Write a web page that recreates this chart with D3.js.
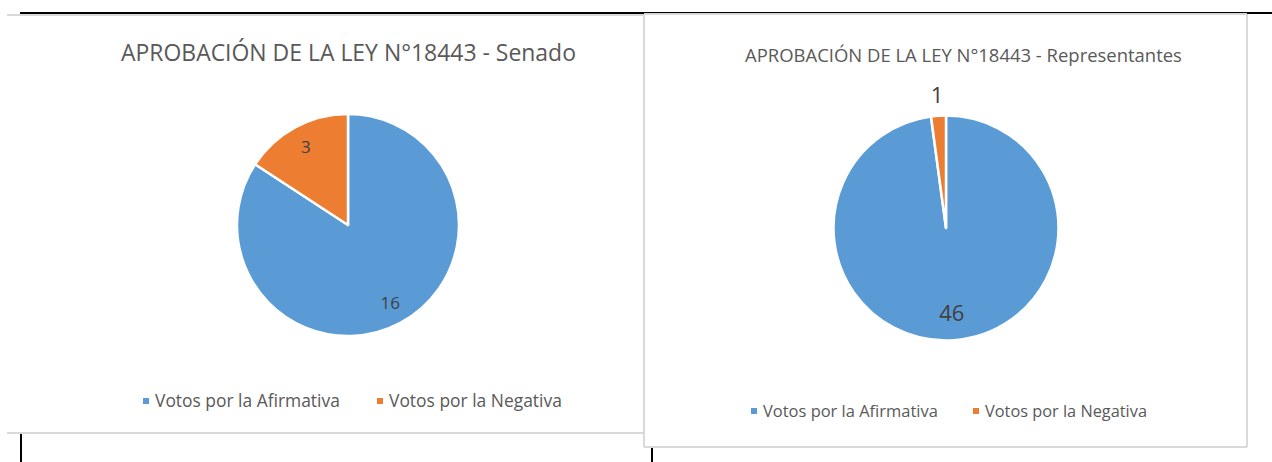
<!DOCTYPE html>
<html>
<head>
<meta charset="utf-8">
<title>Aprobación de la Ley N°18443</title>
<script src="https://d3js.org/d3.v7.min.js"></script>
<style>
  body { margin: 0; background: #fff; }
  svg { display: block; }
  text { font-family: "Open Sans", "Noto Sans", sans-serif; }
</style>
</head>
<body>
<div id="chart"></div>
<script>
// data
const categories = ["Votos por la Afirmativa", "Votos por la Negativa"];
const senadoVotes = [16, 3];
const representantesVotes = [46, 1];
const titles = ["APROBACIÓN DE LA LEY N°18443 - Senado", "APROBACIÓN DE LA LEY N°18443 - Representantes"];

const width = 1272, height = 462;
const color = d3.scaleOrdinal().domain(categories).range(["#5b9bd5", "#ed7d31"]);

const svg = d3.select("#chart").append("svg")
    .attr("width", width)
    .attr("height", height);

// fit a text element to a given pixel width by changing its font size
function fitWidth(sel, target) {
    const node = sel.node();
    const fs = parseFloat(sel.attr("font-size"));
    const w = node.getComputedTextLength();
    sel.attr("font-size", fs * target / w);
}

//  page lines around the two charts (document frame)
svg.append("line").attr("x1", 20).attr("x2", width).attr("y1", 13).attr("y2", 13)
    .attr("stroke", "#000").attr("stroke-width", 2);
svg.append("line").attr("x1", 21).attr("x2", 21).attr("y1", 433).attr("y2", height)
    .attr("stroke", "#000").attr("stroke-width", 2);
svg.append("line").attr("x1", 652).attr("x2", 652).attr("y1", 447).attr("y2", height)
    .attr("stroke", "#000").attr("stroke-width", 2);

// panel settings: box, pie, title and legend placement
const panels = [
    {
        values: senadoVotes, title: titles[0],
        box: [7, 15, 637, 418], leftEdge: false,
        cx: 348, cy: 225, r: 111,
        titleX: 348.5, titleY: 61, titleW: 455, titleSize: 22,
        labelSize: 17, labelR: 0.8,
        legendY: 401, legendX: [143, 377], legendW: [185, 173], legendSize: 15
    },
    {
        values: representantesVotes, title: titles[1],
        box: [644, 14, 603, 433], leftEdge: true,
        cx: 946, cy: 228, r: 112.5,
        titleX: 963.5, titleY: 62, titleW: 437, titleSize: 18,
        labelSize: 22, labelR: 0.76,
        legendY: 411, legendX: [751, 973], legendW: [175, 162], legendSize: 15
    }
];

const pie = d3.pie().sort(null).value(d => d.value);

panels.forEach(p => {
    const g = svg.append("g");
    const [bx, by, bw, bh] = p.box;

    g.append("rect")
        .attr("x", bx).attr("y", by)
        .attr("width", bw).attr("height", bh)
        .attr("fill", "#fff");

    // chart border (the left panel shows no left edge)
    const edges = [[bx, by, bx + bw, by], [bx + bw, by, bx + bw, by + bh], [bx, by + bh, bx + bw, by + bh]];
    if (p.leftEdge) edges.push([bx, by, bx, by + bh]);
    g.selectAll("line.edge")
        .data(edges)
        .join("line")
            .attr("class", "edge")
            .attr("x1", d => d[0]).attr("y1", d => d[1])
            .attr("x2", d => d[2]).attr("y2", d => d[3])
            .attr("stroke", "#d9d9d9")
            .attr("stroke-width", 2);

    // title
    const t = g.append("text")
        .attr("x", p.titleX).attr("y", p.titleY)
        .attr("text-anchor", "middle")
        .attr("fill", "#595959")
        .attr("font-size", p.titleSize)
        .text(p.title);
    fitWidth(t, p.titleW);

    const data = categories.map((c, i) => ({ name: c, value: p.values[i] }));
    const arcs = pie(data);
    const arc = d3.arc().innerRadius(0).outerRadius(p.r);
    const labelArc = d3.arc().innerRadius(p.r * p.labelR).outerRadius(p.r * p.labelR);
    const outerArc = d3.arc().innerRadius(p.r * 1.18).outerRadius(p.r * 1.18);

    const pg = g.append("g").attr("transform", `translate(${p.cx},${p.cy})`);

    pg.selectAll("path")
        .data(arcs)
        .join("path")
            .attr("d", arc)
            .attr("fill", d => color(d.data.name))
            .attr("stroke", "#fff")
            .attr("stroke-width", 2.5)
            .attr("stroke-linejoin", "round");

    // small slices get their label outside the pie
    pg.selectAll("text")
        .data(arcs)
        .join("text")
            .attr("transform", d => {
                const small = (d.endAngle - d.startAngle) < 0.3;
                return `translate(${(small ? outerArc : labelArc).centroid(d)})`;
            })
            .attr("text-anchor", "middle")
            .attr("dy", "0.35em")
            .attr("fill", "#404040")
            .attr("font-size", p.labelSize)
            .text(d => d.data.value);

    // legend
    categories.forEach((c, i) => {
        g.append("rect")
            .attr("x", p.legendX[i]).attr("y", p.legendY - 3)
            .attr("width", 6).attr("height", 6)
            .attr("fill", color(c));
        const lt = g.append("text")
            .attr("x", p.legendX[i] + 12).attr("y", p.legendY)
            .attr("dy", "0.35em")
            .attr("fill", "#595959")
            .attr("font-size", p.legendSize)
            .text(c);
        fitWidth(lt, p.legendW[i]);
    });
});

// thin segment of the page line over the right panel
svg.append("line").attr("x1", 644).attr("x2", 1248).attr("y1", 12.5).attr("y2", 12.5)
    .attr("stroke", "#000").attr("stroke-width", 1);
</script>
</body>
</html>
